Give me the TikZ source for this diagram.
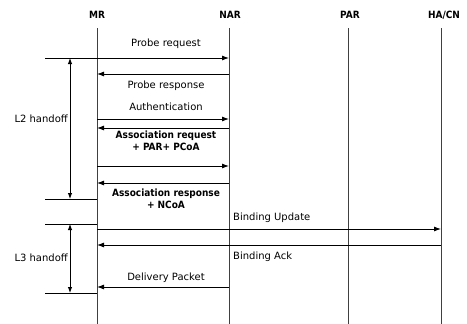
\documentclass[tikz,border=0pt]{standalone}
\usepackage{fontspec}
\setmainfont{DejaVu Sans}
\newfontfamily\condfont{DejaVu Sans Condensed}
\usetikzlibrary{arrows.meta}
\begin{document}
\begin{tikzpicture}[x=1pt,y=-1pt,
  every node/.style={inner sep=1pt},
  head/.style={font=\condfont\bfseries\fontsize{10}{11}\selectfont},
  lbl/.style={font=\fontsize{10}{12}\selectfont},
  blbl/.style={font=\condfont\bfseries\fontsize{10}{11.5}\selectfont, align=center},
  life/.style={line width=0.7pt, black!75},
  msg/.style={line width=0.9pt, -{Latex[length=7pt,width=5pt]}},
  hmark/.style={line width=0.9pt},
  span/.style={line width=0.9pt, {Latex[length=6pt,width=4.5pt]}-{Latex[length=6pt,width=4.5pt]}}]
\useasboundingbox (0,0) rectangle (467,324);
% headers
\node[head] (MR) at (97,15) {MR};
\node[head] (NAR) at (230,15) {NAR};
\node[head] (PAR) at (350,15) {PAR};
\node[head] (HA) at (444,15) {HA/CN};
% lifelines
\coordinate (mrT) at (97,28);  \coordinate (mrB) at (97,324);
\coordinate (narT) at (229,28); \coordinate (narB) at (229,324);
\coordinate (parT) at (348,28); \coordinate (parB) at (348,324);
\coordinate (haT) at (441,28);  \coordinate (haB) at (441,324);
\draw[life] (mrT) -- (mrB);
\draw[life] (narT) -- (narB);
\draw[life] (parT) -- (parB);
\draw[life] (haT) -- (haB);
% message rows
\coordinate (r1) at (0,58);
\coordinate (r2) at (0,74);
\coordinate (r3) at (0,119);
\coordinate (r4) at (0,128);
\coordinate (r5) at (0,166);
\coordinate (r6) at (0,183);
\coordinate (r7) at (0,229);
\coordinate (r8) at (0,245);
\coordinate (r9) at (0,287);
\draw[msg] (mrT |- r1) -- (narT |- r1);
\draw[msg] (narT |- r2) -- (mrT |- r2);
\draw[msg] (mrT |- r3) -- (narT |- r3);
\draw[msg] (narT |- r4) -- (mrT |- r4);
\draw[msg] (mrT |- r5) -- (narT |- r5);
\draw[msg] (narT |- r6) -- (mrT |- r6);
\draw[msg] (mrT |- r7) -- (haT |- r7);
\draw[msg] (haT |- r8) -- (mrT |- r8);
\draw[msg] (narT |- r9) -- (mrT |- r9);
% labels
\node[lbl] (l1) at (166,44) {Probe request};
\node[lbl] (l2) at (166,86) {Probe response};
\node[lbl] (l3) at (166,107) {Authentication};
\node[blbl] (l4) at (166,141) {Association request\\+ PAR+ PCoA};
\node[blbl] (l5) at (166,199) {Association response\\+ NCoA};
\node[lbl, anchor=west] (l6) at (232,218) {Binding Update};
\node[lbl, anchor=west] (l7) at (232,257) {Binding Ack};
\node[lbl] (l8) at (166,278) {Delivery Packet};
% handoff marks
\coordinate (h1) at (45,58);
\coordinate (h2) at (45,199);
\coordinate (h3) at (45,224);
\coordinate (h4) at (45,293);
\draw[hmark] (h1) -- (mrT |- h1);
\draw[hmark] (h2) -- (mrT |- h2);
\draw[hmark] (h3) -- (mrT |- h3);
\draw[hmark] (h4) -- (mrT |- h4);
\coordinate (v1) at (70,58);
\coordinate (v2) at (70,199);
\coordinate (v3) at (70,224);
\coordinate (v4) at (70,293);
\draw[span] (v1) -- (v2);
\draw[span] (v3) -- (v4);
\node[lbl, anchor=east] (L2) at (69,119) {L2 handoff};
\node[lbl, anchor=east] (L3) at (69,258) {L3 handoff};
\end{tikzpicture}
\end{document}
